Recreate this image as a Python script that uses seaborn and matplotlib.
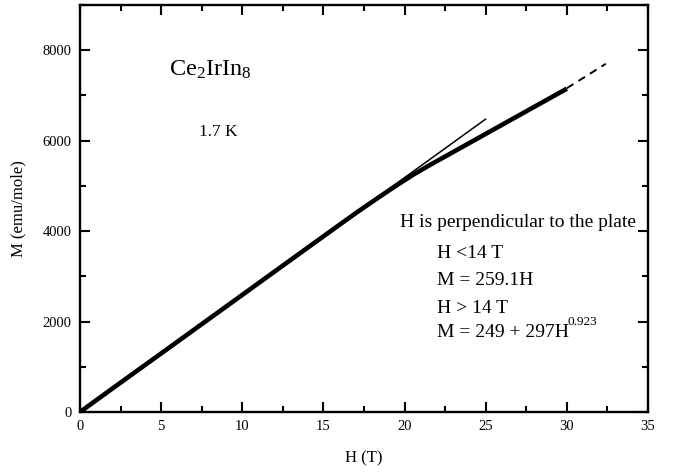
import matplotlib
matplotlib.use("Agg")
import matplotlib.pyplot as plt
import seaborn as sns
import pandas as pd
from matplotlib.ticker import MultipleLocator

H_data = [0, 2, 5, 10, 15, 17, 18.5, 19.5, 20.5, 21.5, 22.5, 23.5, 25, 26.5, 28, 30]
M_data = [0, 520, 1295, 2590, 3885, 4400, 4770, 5010, 5240, 5450, 5650, 5850, 6150, 6450, 6750, 7150]

# Linear fit M = 259.1H (thin line, drawn up to 25 T)
H_lin = [0, 25]
M_lin = [0, 6478]

# Power-law extrapolation (dashed)
H_pow = [30.0, 31.2, 32.4]
M_pow = [7160, 7430, 7700]

x_ticks = [0, 5, 10, 15, 20, 25, 30, 35]
y_ticks = [0, 2000, 4000, 6000, 8000]

sns.set_style("ticks")
plt.rcParams['font.family'] = ['Liberation Serif', 'DejaVu Serif']
plt.rcParams['mathtext.fontset'] = 'custom'
plt.rcParams['mathtext.rm'] = 'Liberation Serif'
plt.rcParams['mathtext.it'] = 'Liberation Serif'
for k in ['text.color', 'axes.labelcolor', 'xtick.color', 'ytick.color', 'axes.edgecolor']:
    plt.rcParams[k] = 'black'

fig = plt.figure(figsize=(6.74, 4.72), dpi=100)
ax = fig.add_axes([80 / 674, 1 - 412 / 472, (648 - 80) / 674, (412 - 5) / 472])

df_data = pd.DataFrame({"H": H_data, "M": M_data})
df_lin = pd.DataFrame({"H": H_lin, "M": M_lin})
df_pow = pd.DataFrame({"H": H_pow, "M": M_pow})

sns.lineplot(data=df_data, x="H", y="M", ax=ax, color="black", linewidth=3.3,
             sort=False, estimator=None, solid_capstyle="butt")
sns.lineplot(data=df_lin, x="H", y="M", ax=ax, color="black", linewidth=1.1,
             sort=False, estimator=None)
sns.lineplot(data=df_pow, x="H", y="M", ax=ax, color="black", linewidth=1.4,
             sort=False, estimator=None, linestyle=(0, (4, 3)))

ax.set_xlim(0, 35)
ax.set_ylim(0, 9000)
ax.set_xticks(x_ticks)
ax.set_yticks(y_ticks)
ax.xaxis.set_minor_locator(MultipleLocator(2.5))
ax.yaxis.set_minor_locator(MultipleLocator(1000))
ax.tick_params(which="both", direction="in", top=True, right=True, labeltop=False, labelright=False)
ax.tick_params(which="major", length=7, width=1.5, labelsize=10.5, pad=6)
ax.tick_params(which="minor", length=4, width=1.5)
for s in ax.spines.values():
    s.set_linewidth(1.7)
    s.set_visible(True)

ax.set_xlabel("H (T)", fontsize=12, labelpad=12)
ax.set_ylabel("M (emu/mole)", fontsize=12, labelpad=12)

ax.text(8.0, 7560, r"Ce$_2$IrIn$_8$", fontsize=17.5, ha="center", va="center")
ax.text(8.5, 6200, "1.7 K", fontsize=12.5, ha="center", va="center")

ax.text(19.7, 4200, "H is perpendicular to the plate", fontsize=14, ha="left", va="center")
ax.text(22.0, 3510, "H <14 T", fontsize=14, ha="left", va="center")
ax.text(22.0, 2910, "M = 259.1H", fontsize=14, ha="left", va="center")
ax.text(22.0, 2290, "H > 14 T", fontsize=14, ha="left", va="center")
t = ax.text(22.0, 1750, "M = 249 + 297H", fontsize=14, ha="left", va="center")
ax.annotate("0.923", xy=(0.99, 0.8), xycoords=t, ha="left", va="bottom", fontsize=9.5)

fig.savefig("out.png", dpi=100)
